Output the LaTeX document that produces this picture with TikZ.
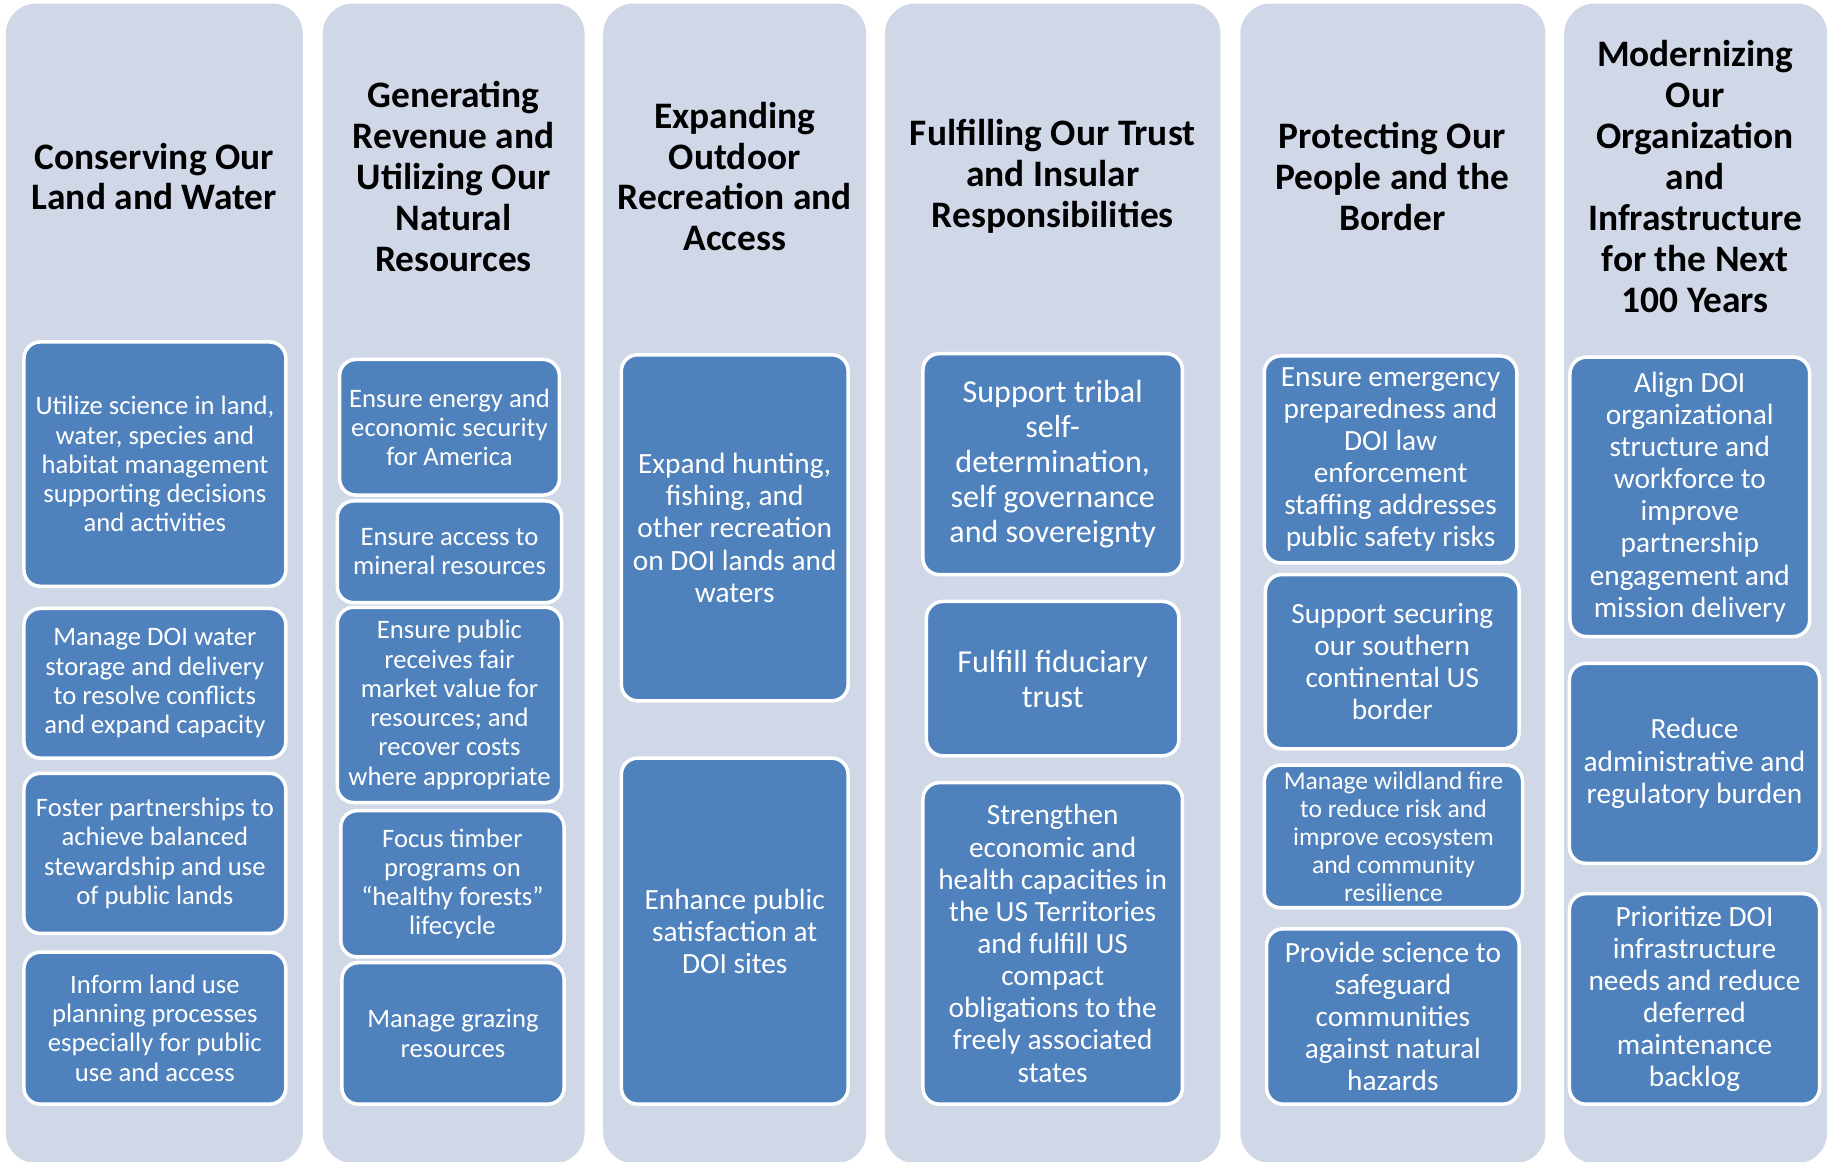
\documentclass[tikz,border=0pt]{standalone}
\usepackage{fontspec}
\setmainfont{Carlito}
\definecolor{colbg}{HTML}{D0D8E8}
\definecolor{boxblue}{HTML}{4F81BD}
\begin{document}
\begin{tikzpicture}[x=1pt,y=-1pt,
  colbox/.style={fill=colbg, draw=none, rounded corners=26pt, inner sep=0pt},
  title/.style={align=center, text=black, font=\bfseries\fontsize{32}{35}\selectfont, inner sep=0pt},
  goal/.style={fill=boxblue, draw=white, line width=3pt, rounded corners=14pt, text=white, align=center, inner sep=0pt},
  fa/.style={font=\fontsize{22.8}{25}\selectfont},
  fb/.style={font=\fontsize{25.1}{27.5}\selectfont},
  fc/.style={font=\fontsize{27.4}{30}\selectfont},
  fd/.style={font=\fontsize{21.9}{24}\selectfont}]
\useasboundingbox[fill=white] (0,0) rectangle (1568,994);
% columns
\node[colbox, minimum width=254pt, minimum height=992pt] (c1) at (132,499) {};
\node[colbox, minimum width=224pt, minimum height=992pt] (c2) at (388,499) {};
\node[colbox, minimum width=225pt, minimum height=992pt] (c3) at (628.5,499) {};
\node[colbox, minimum width=287pt, minimum height=992pt] (c4) at (900.5,499) {};
\node[colbox, minimum width=261pt, minimum height=992pt] (c5) at (1191.5,499) {};
\node[colbox, minimum width=225pt, minimum height=992pt] (c6) at (1450.5,499) {};
% titles
\node[title] (t1) at (132,151) {Conserving Our\\Land and Water};
\node[title] (t2) at (388,151) {Generating\\Revenue and\\Utilizing Our\\Natural\\Resources};
\node[title] (t3) at (628.5,151) {Expanding\\Outdoor\\Recreation and\\Access};
\node[title] (t4) at (900.5,151) {Fulfilling Our Trust\\and Insular\\Responsibilities};
\node[title] (t5) at (1191,151) {Protecting Our\\People and the\\Border};
\node[title] (t6) at (1450,151) {Modernizing\\Our\\Organization\\and\\Infrastructure\\for the Next\\100 Years};
% column 1
\node[goal, fa, minimum width=224pt, minimum height=209pt] (a1) at (132.5,397) {Utilize science in land,\\water, species and\\habitat management\\supporting decisions\\and activities};
\node[goal, fa, minimum width=224pt, minimum height=128pt] (a2) at (132.5,584.5) {Manage DOI water\\storage and delivery\\to resolve conflicts\\and expand capacity};
\node[goal, fa, minimum width=224pt, minimum height=137pt] (a3) at (132.5,730) {Foster partnerships to\\achieve balanced\\stewardship and use\\of public lands};
\node[goal, fa, minimum width=224pt, minimum height=130pt] (a4) at (132.5,879.5) {Inform land use\\planning processes\\especially for public\\use and access};
% column 2
\node[goal, fa, minimum width=188pt, minimum height=116pt] (b1) at (384.5,365.5) {Ensure energy and\\economic security\\for America};
\node[goal, fa, minimum width=192pt, minimum height=87pt] (b2) at (384.5,472) {Ensure access to\\mineral resources};
\node[goal, fa, minimum width=192pt, minimum height=167pt] (b3) at (384.5,603) {Ensure public\\receives fair\\market value for\\resources; and\\recover costs\\where appropriate};
\node[goal, fa, minimum width=191pt, minimum height=125pt] (b4) at (387,756) {Focus timber\\programs on\\“healthy forests”\\lifecycle};
\node[goal, fa, minimum width=190pt, minimum height=121pt] (b5) at (387.5,884) {Manage grazing\\resources};
% column 3
\node[goal, fb, minimum width=194pt, minimum height=296pt] (d1) at (628.5,451.5) {Expand hunting,\\fishing, and\\other recreation\\on DOI lands and\\waters};
\node[goal, fb, minimum width=194pt, minimum height=296pt] (d2) at (628.5,796.5) {Enhance public\\satisfaction at\\DOI sites};
% column 4
\node[goal, fc, minimum width=222pt, minimum height=189pt] (e1) at (900.5,397) {Support tribal\\self-\\determination,\\self governance\\and sovereignty};
\node[goal, fc, minimum width=216pt, minimum height=132pt] (e2) at (900.5,580.5) {Fulfill fiduciary\\trust};
\node[goal, fb, minimum width=222pt, minimum height=275pt] (e3) at (900.5,807) {Strengthen\\economic and\\health capacities in\\the US Territories\\and fulfill US\\compact\\obligations to the\\freely associated\\states};
% column 5
\node[goal, fb, minimum width=216pt, minimum height=177pt] (f1) at (1189.5,393) {Ensure emergency\\preparedness and\\DOI law\\enforcement\\staffing addresses\\public safety risks};
\node[goal, fb, minimum width=217pt, minimum height=149pt] (f2) at (1191,566) {Support securing\\our southern\\continental US\\border};
\node[goal, fd, minimum width=221pt, minimum height=122pt] (f3) at (1192,715.5) {Manage wildland fire\\to reduce risk and\\improve ecosystem\\and community\\resilience};
\node[goal, fb, minimum width=216pt, minimum height=150pt] (f4) at (1191.5,869.5) {Provide science to\\safeguard\\communities\\against natural\\hazards};
% column 6
\node[goal, fb, minimum width=205pt, minimum height=239pt] (g1) at (1445.5,425) {Align DOI\\organizational\\structure and\\workforce to\\improve\\partnership\\engagement and\\mission delivery};
\node[goal, fb, minimum width=214pt, minimum height=171pt] (g2) at (1449.5,653) {Reduce\\administrative and\\regulatory burden};
\node[goal, fb, minimum width=214pt, minimum height=180pt] (g3) at (1449.5,854.5) {Prioritize DOI\\infrastructure\\needs and reduce\\deferred\\maintenance\\backlog};
\end{tikzpicture}
\end{document}
